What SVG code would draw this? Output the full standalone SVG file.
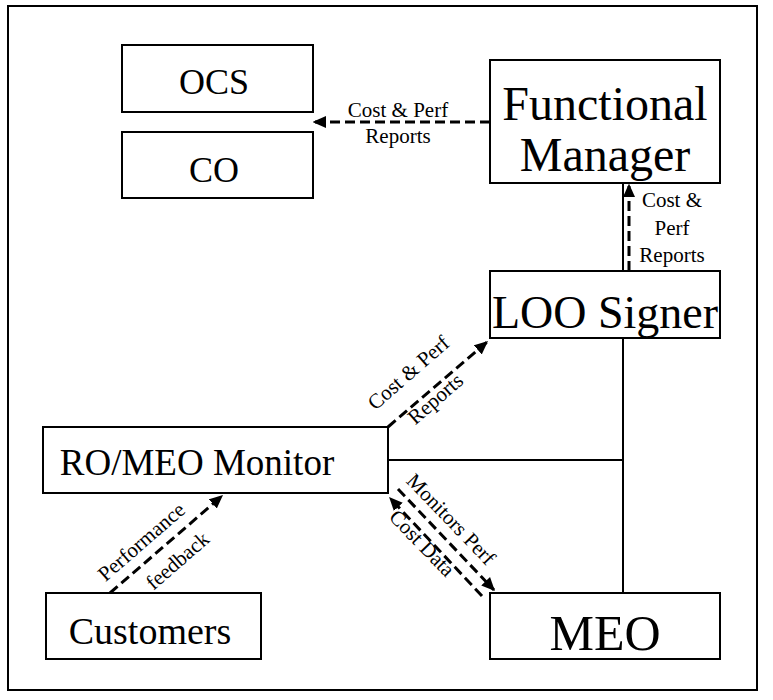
<svg xmlns="http://www.w3.org/2000/svg" width="773" height="700" viewBox="0 0 773 700">
<defs>
<style>
.box{fill:#fff;stroke:#000;stroke-width:2}
.t{font-family:"Liberation Serif","Times New Roman",serif;fill:#000;text-anchor:middle}
.lbl{font-size:21px}
.solid{stroke:#000;stroke-width:2;fill:none}
.dash{stroke:#000;stroke-width:3;fill:none;stroke-dasharray:10,5}
</style>
<marker id="ah" viewBox="0 0 10 10" refX="9" refY="5" markerWidth="4.5" markerHeight="4.5" markerUnits="strokeWidth" orient="auto">
<path d="M0,0.5 L10,5 L0,9.5 z" fill="#000"/>
</marker>
</defs>
<rect x="8" y="6" width="749" height="684" fill="#fff" stroke="#000" stroke-width="2"/>
<g id="connectors">
<line class="dash" x1="490" y1="122" x2="314" y2="122" marker-end="url(#ah)"/>
<line class="solid" x1="623" y1="183" x2="623" y2="271"/>
<line class="dash" x1="629" y1="271" x2="629" y2="185" marker-end="url(#ah)"/>
<line class="solid" x1="623" y1="338" x2="623" y2="593"/>
<line class="solid" x1="388" y1="460" x2="623" y2="460"/>
<line class="dash" x1="388" y1="427" x2="487" y2="342" marker-end="url(#ah)"/>
<line class="dash" x1="110" y1="593" x2="222" y2="496" marker-end="url(#ah)"/>
<line class="dash" x1="398" y1="489" x2="494" y2="590" marker-end="url(#ah)"/>
<line class="dash" x1="482" y1="596" x2="390" y2="498" marker-end="url(#ah)"/>
<text class="t lbl" x="398" y="117">Cost &amp; Perf</text>
<text class="t lbl" x="398" y="143">Reports</text>
<text class="t lbl" x="672" y="207">Cost &amp;</text>
<text class="t lbl" x="672" y="235">Perf</text>
<text class="t lbl" x="672" y="262">Reports</text>
<text class="t lbl" transform="translate(413,378) rotate(-41)">Cost &amp; Perf</text>
<text class="t lbl" transform="translate(440,404) rotate(-41)">Reports</text>
<text class="t lbl" transform="translate(146,547) rotate(-41)">Performance</text>
<text class="t lbl" transform="translate(182,566) rotate(-41)">feedback</text>
<text class="t lbl" transform="translate(446,524) rotate(46)">Monitors Perf</text>
<text class="t lbl" transform="translate(417,548) rotate(46)">Cost Data</text>
</g>
<g id="ocs"><rect class="box" x="122" y="45" width="191" height="67"/><text class="t" font-size="36" x="214" y="94">OCS</text></g>
<g id="co"><rect class="box" x="122" y="132" width="191" height="66"/><text class="t" font-size="36" x="214" y="182">CO</text></g>
<g id="functional-manager"><rect class="box" x="490" y="60" width="230" height="123"/><text class="t" font-size="48" x="605" y="120">Functional</text><text class="t" font-size="48" x="605" y="171">Manager</text></g>
<g id="loo-signer"><rect class="box" x="490" y="271" width="230" height="67"/><text class="t" font-size="46" x="605" y="328">LOO Signer</text></g>
<g id="ro-meo-monitor"><rect class="box" x="43" y="427" width="345" height="66"/><text class="t" font-size="37" x="197" y="475">RO/MEO Monitor</text></g>
<g id="customers"><rect class="box" x="46" y="593" width="215" height="66"/><text class="t" font-size="38" x="150" y="644">Customers</text></g>
<g id="meo"><rect class="box" x="490" y="593" width="230" height="66"/><text class="t" font-size="50" x="605" y="650">MEO</text></g>
</svg>
